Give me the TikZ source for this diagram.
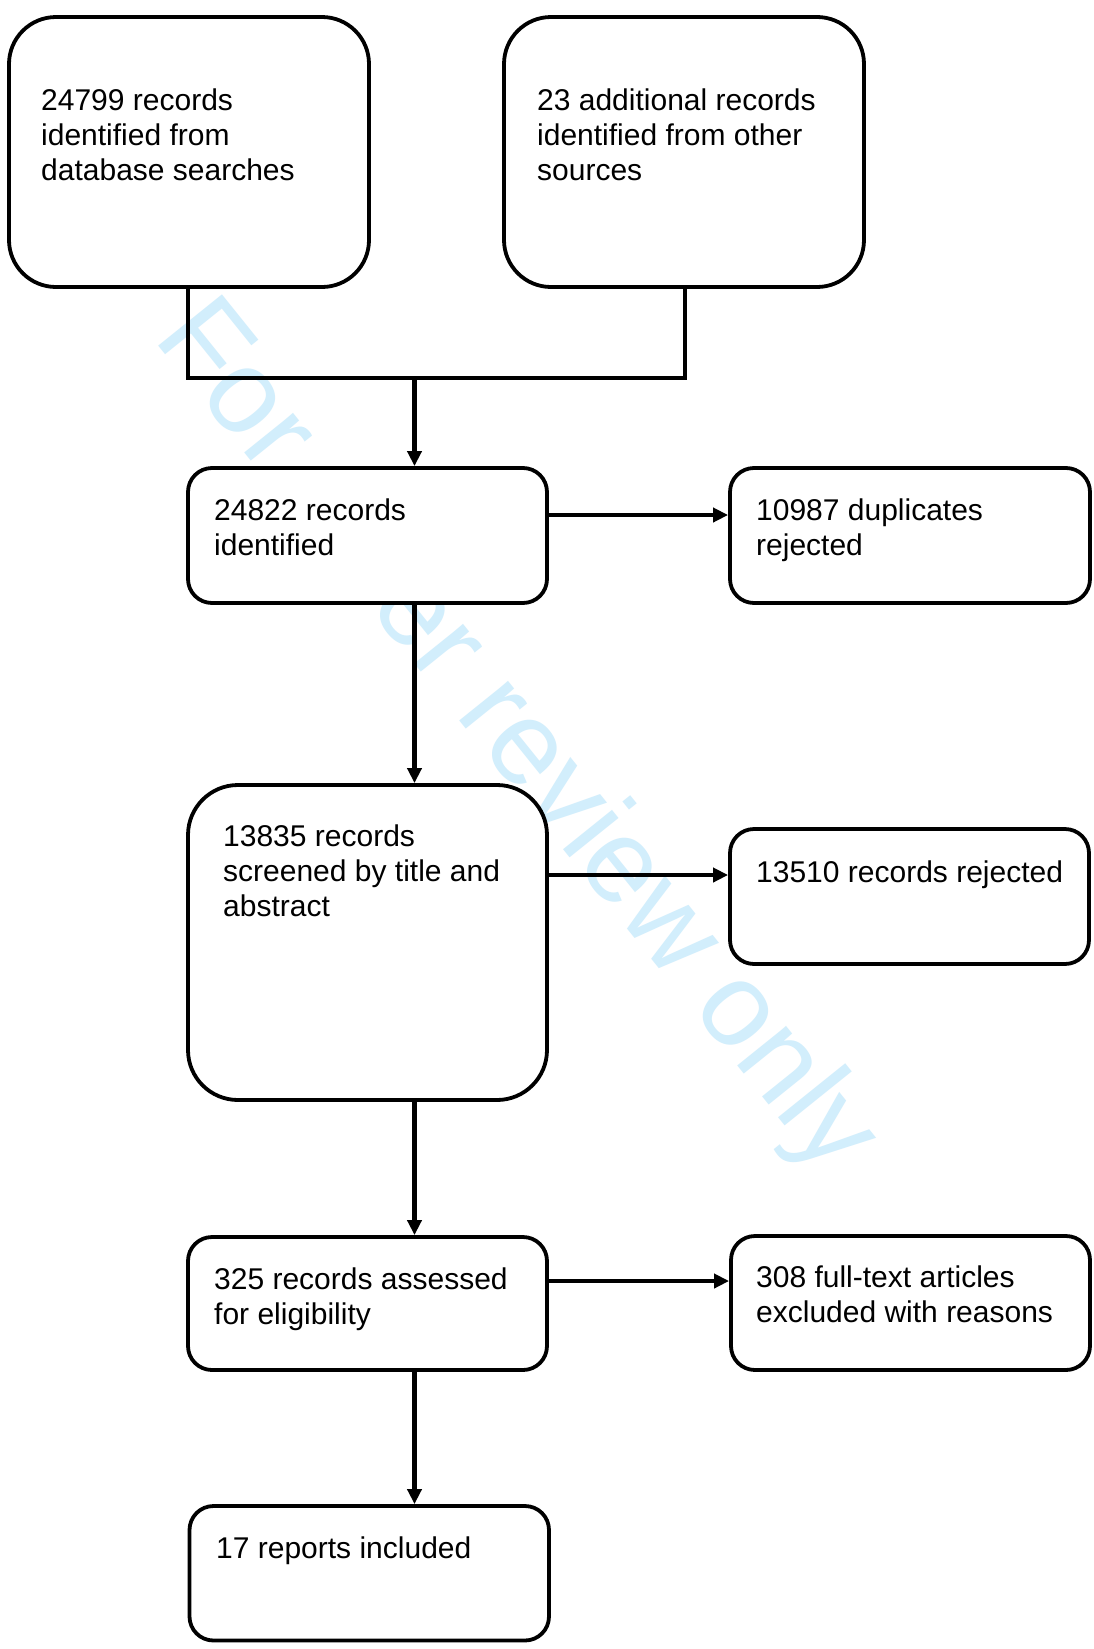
\documentclass[tikz,border=0pt]{standalone}
\usepackage{fontspec}
\setmainfont{Liberation Sans}
\usetikzlibrary{arrows.meta}
\definecolor{wmcol}{RGB}{210,238,252}
\begin{document}
\begin{tikzpicture}[x=1pt,y=-1pt,
  box/.style={draw=black, line width=3.8pt, fill=white, inner sep=0pt, rounded corners=24pt},
  txt/.style={anchor=base west, inner sep=0pt, font=\fontsize{30}{35}\selectfont, text=black},
  conn/.style={line width=4.8pt},
  arr/.style={line width=4.8pt, -{Triangle[length=15pt,width=14pt]}},
  wmark/.style={anchor=base west, inner sep=0pt, text=wmcol, font=\fontsize{119}{120}\selectfont, rotate=-51.2}]
\useasboundingbox (0,0) rectangle (1094,1649);
\fill[white] (0,0) rectangle (1094,1649);
% watermark
\node[wmark] (wm) at (152.3,338) {For peer review only};
% boxes
\node[box, rounded corners=47pt, minimum width=360pt, minimum height=270pt] (a) at (189,152) {};
\node[box, rounded corners=47pt, minimum width=360pt, minimum height=270pt] (b) at (684,152) {};
\node[box, minimum width=359pt, minimum height=135pt] (c) at (367.5,535.5) {};
\node[box, minimum width=360pt, minimum height=135pt] (d) at (910,535.5) {};
\node[box, rounded corners=50pt, minimum width=359pt, minimum height=315pt] (e) at (367.5,942.5) {};
\node[box, minimum width=359pt, minimum height=135pt] (f) at (909.5,896.5) {};
\node[box, minimum width=359pt, minimum height=133pt] (g) at (367.5,1303.5) {};
\node[box, minimum width=359pt, minimum height=134pt] (h) at (910.5,1303) {};
\node[box, minimum width=359.5pt, minimum height=134.5pt] (i) at (369.25,1573.25) {};
% texts
\node[txt] (ta) at (41,110) {\vtop{\hbox{24799 records}\hbox{identified from}\hbox{database searches}}};
\node[txt] (tb) at (537,110) {\vtop{\hbox{23 additional records}\hbox{identified from other}\hbox{sources}}};
\node[txt] (tc) at (214,520) {\vtop{\hbox{24822 records}\hbox{identified}}};
\node[txt] (td) at (756,520) {\vtop{\hbox{10987 duplicates}\hbox{rejected}}};
\node[txt] (te) at (223,846) {\vtop{\hbox{13835 records}\hbox{screened by title and}\hbox{abstract}}};
\node[txt] (tf) at (756,882) {13510 records rejected};
\node[txt] (tg) at (214,1289) {\vtop{\hbox{325 records assessed}\hbox{for eligibility}}};
\node[txt] (th) at (756,1287) {\vtop{\hbox{308 full-text articles}\hbox{excluded with reasons}}};
\node[txt] (ti) at (216,1558) {17 reports included};
% connectors
\coordinate (j1) at (188,378);
\coordinate (j2) at (685,378);
\coordinate (xm) at (414.5,378);
\coordinate (ycd) at (0,515);
\coordinate (yef) at (0,875);
\coordinate (ygh) at (0,1281);
\draw[conn] (a.south -| j1) -- (j1) -- (j2) -- (b.south -| j2);
\draw[arr] (xm) -- (c.north -| xm);
\draw[arr] (c.east |- ycd) -- (d.west |- ycd);
\draw[arr] (c.south -| xm) -- (e.north -| xm);
\draw[arr] (e.east |- yef) -- (f.west |- yef);
\draw[arr] (e.south -| xm) -- (g.north -| xm);
\draw[arr] (g.east |- ygh) -- (h.west |- ygh);
\draw[arr] (g.south -| xm) -- (i.north -| xm);
\end{tikzpicture}
\end{document}
